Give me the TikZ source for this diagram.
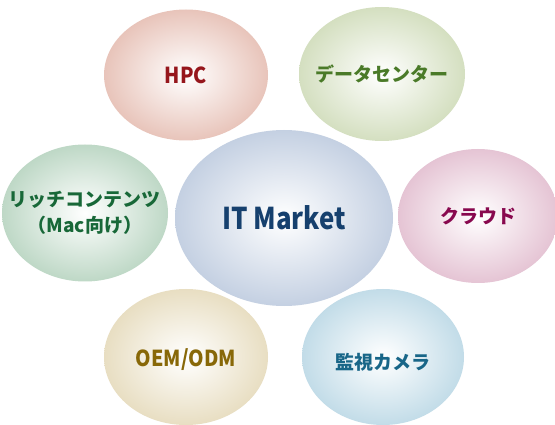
\documentclass[tikz,border=0pt]{standalone}
\usepackage{fontspec}
\setmainfont{Noto Sans CJK JP}[BoldFont={* Black}]
\usetikzlibrary{shapes.geometric}
\definecolor{hpcO}{RGB}{232,196,186}
\definecolor{hpcT}{RGB}{150,22,28}
\definecolor{dcO}{RGB}{212,223,192}
\definecolor{dcT}{RGB}{74,122,40}
\definecolor{itO}{RGB}{196,208,226}
\definecolor{itT}{RGB}{22,64,110}
\definecolor{rcO}{RGB}{190,216,198}
\definecolor{rcT}{RGB}{24,104,56}
\definecolor{clO}{RGB}{229,196,212}
\definecolor{clT}{RGB}{136,8,78}
\definecolor{oeO}{RGB}{232,222,194}
\definecolor{oeT}{RGB}{136,104,8}
\definecolor{caO}{RGB}{194,220,232}
\definecolor{caT}{RGB}{24,102,136}
\tikzset{
  bub/.style={ellipse, inner sep=0pt, outer sep=0pt, shading=radial, inner color=white},
  lbl/.style={font=\bfseries\fontsize{19}{26}\selectfont, align=center, inner sep=0pt},
  lat/.style={font=\bfseries\fontsize{22}{26}\selectfont, xscale=0.9}
}
\begin{document}
\begin{tikzpicture}[x=1pt,y=-1pt]
\path[use as bounding box, fill=white] (0,0) rectangle (555,425);
\node[bub, outer color=hpcO, minimum width=164pt, minimum height=131pt] (hpc) at (186,75) {};
\node[bub, outer color=dcO, minimum width=166pt, minimum height=134pt] (dc) at (382,74) {};
\node[bub, outer color=rcO, minimum width=166pt, minimum height=137pt] (rc) at (85,213) {};
\node[bub, outer color=clO, minimum width=160pt, minimum height=134pt] (cl) at (478,216) {};
\node[bub, outer color=oeO, minimum width=164pt, minimum height=136pt] (oe) at (186,357) {};
\node[bub, outer color=caO, minimum width=162pt, minimum height=136pt] (ca) at (383,357) {};
\node[bub, outer color=itO, minimum width=218pt, minimum height=176pt] (it) at (284,218) {};
\node[lbl, lat, text=hpcT] (hpcl) at (hpc) {HPC};
\node[lbl, text=dcT] (dcl) at (dc) {データセンター};
\node[lbl, text=rcT] (rcl) at (rc) {リッチコンテンツ\\（Mac向け）};
\node[lbl, text=clT] (cll) at (cl) {クラウド};
\node[lbl, lat, text=oeT] (oel) at ([yshift=-3pt]oe.center) {OEM/ODM};
\node[lbl, text=caT] (cal) at ([yshift=-5pt]ca.center) {監視カメラ};
\node[lbl, text=itT, font=\bfseries\fontsize{30}{34}\selectfont, xscale=0.86] (itl) at (it) {IT Market};
\end{tikzpicture}
\end{document}
